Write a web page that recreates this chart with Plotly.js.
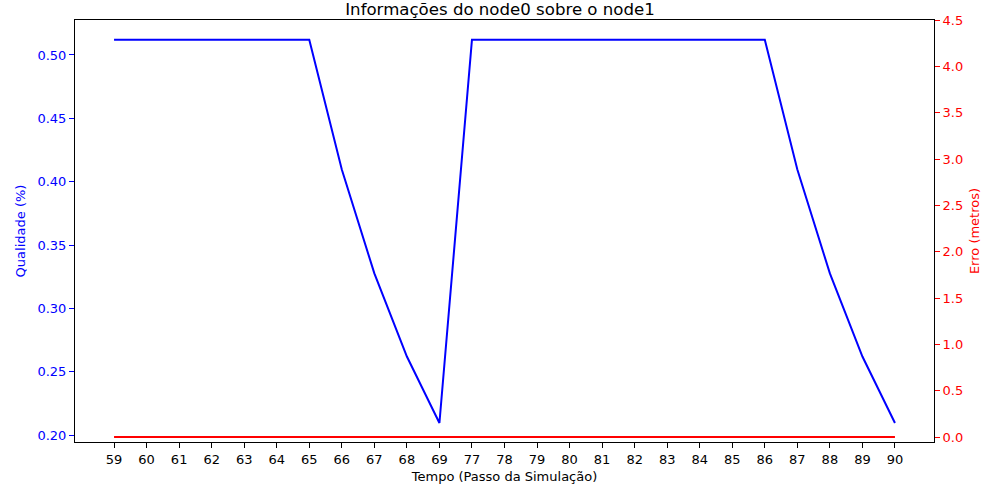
<!DOCTYPE html>
<html>
<head>
<meta charset="utf-8">
<script src="https://cdn.plot.ly/plotly-3.0.1.min.js"></script>
<style>html,body{margin:0;padding:0;background:#fff;}#chart{width:1000px;height:500px;}</style>
</head>
<body>
<div id="chart"></div>
<script>
const steps = ["59","60","61","62","63","64","65","66","67","68","69","77","78","79","80","81","82","83","84","85","86","87","88","89","90"];
const quality = [0.512,0.512,0.512,0.512,0.512,0.512,0.512,0.4096,0.3277,0.2621,0.2097,0.512,0.512,0.512,0.512,0.512,0.512,0.512,0.512,0.512,0.512,0.4096,0.3277,0.2621,0.2097];
const errorMeters = [0,0,0,0,0,0,0,0,0,0,0,0,0,0,0,0,0,0,0,0,0,0,0,0,0];
const rightTicks = [0,0.5,1,1.5,2,2.5,3,3.5,4,4.5];
const rightTickText = ["0.0","0.5","1.0","1.5","2.0","2.5","3.0","3.5","4.0","4.5"];
const leftTicks = [0.20,0.25,0.30,0.35,0.40,0.45,0.50];
const leftTickText = ["0.20","0.25","0.30","0.35","0.40","0.45","0.50"];

const font = "DejaVu Sans, sans-serif";
const traces = [
  {x: steps, y: quality, type: 'scatter', mode: 'lines', line: {color: '#0000ff', width: 2}, yaxis: 'y', showlegend: false},
  {x: steps, y: errorMeters, type: 'scatter', mode: 'lines', line: {color: '#ff0000', width: 2}, yaxis: 'y2', showlegend: false}
];
const layout = {
  width: 1000, height: 500,
  margin: {l: 75, r: 66, t: 20, b: 58},
  paper_bgcolor: '#fff', plot_bgcolor: '#fff',
  font: {family: font, size: 13, color: '#000'},
  title: {text: 'Informações do node0 sobre o node1', font: {family: font, size: 16.6, color: '#000'}, x: 0.5, xanchor: 'center', yref: 'container', y: 0.982, yanchor: 'middle'},
  xaxis: {type: 'category', range: [-1.2, 25.2], showgrid: false, zeroline: false, showline: true, linecolor: '#000', linewidth: 1, mirror: true,
    ticks: 'outside', ticklen: 5, tickcolor: '#000', tickfont: {family: font, size: 13, color: '#000'},
    title: {text: 'Tempo (Passo da Simulação)', font: {family: font, size: 13, color: '#000'}, standoff: 6}},
  yaxis: {range: [0.1947, 0.5276], tickvals: leftTicks, ticktext: leftTickText, showgrid: false, zeroline: false, showline: true, linecolor: '#000', linewidth: 1,
    ticks: 'outside', ticklen: 5, tickcolor: '#0000ff', tickfont: {family: font, size: 13, color: '#0000ff'},
    title: {text: 'Qualidade (%)', font: {family: font, size: 13, color: '#0000ff'}, standoff: 8}},
  yaxis2: {overlaying: 'y', side: 'right', range: [-0.054, 4.503], tickvals: rightTicks, ticktext: rightTickText, showgrid: false, zeroline: false, showline: true, linecolor: '#000', linewidth: 1,
    ticks: 'outside', ticklen: 5, tickcolor: '#ff0000', tickfont: {family: font, size: 13, color: '#ff0000'},
    title: {text: 'Erro (metros)', font: {family: font, size: 13, color: '#ff0000'}, standoff: 7}}
};
Plotly.newPlot('chart', traces, layout, {displayModeBar: false, staticPlot: true});
</script>
</body>
</html>
